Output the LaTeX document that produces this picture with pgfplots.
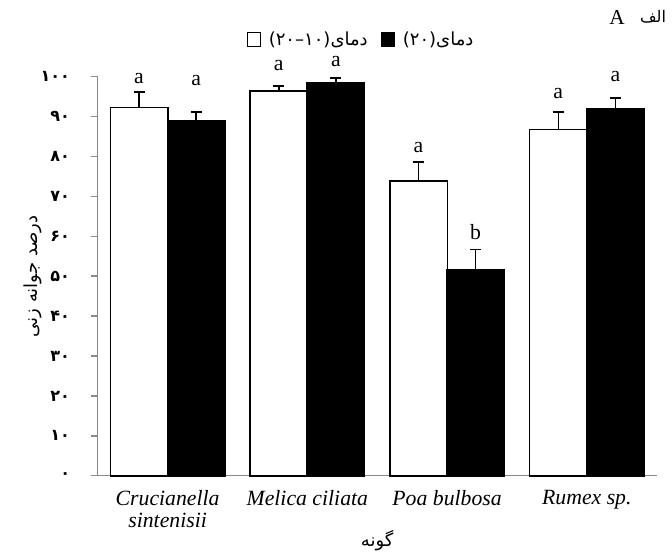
\documentclass[border=0pt]{standalone}
\usepackage{fontspec}
\setmainfont{Liberation Serif}
\newfontfamily\arabicfont[Script=Arabic]{DejaVu Sans}
\TeXXeTstate=1
\usepackage{pgfplots}
\pgfplotsset{compat=1.18}
\definecolor{axgray}{RGB}{137,137,137}
\begin{document}
\begin{tikzpicture}
\begin{axis}[
  scale only axis,
  width=419.25pt, height=299.25pt,
  xmin=-0.5, xmax=3.5, ymin=0, ymax=100,
  axis x line*=bottom, axis y line*=left,
  axis line style={-, axgray, line width=1.1pt},
  xtick={0,1,2,3},
  xticklabels={{Crucianella\\sintenisii},{Melica ciliata},{Poa bulbosa},{Rumex sp.}},
  xtick style={draw=none},
  xticklabel style={font=\fontsize{16.3}{16.5}\selectfont\itshape, align=center, anchor=north, yshift=-2pt},
  ytick={0,10,20,30,40,50,60,70,80,90,100},
  yticklabels={۰,۱۰,۲۰,۳۰,۴۰,۵۰,۶۰,۷۰,۸۰,۹۰,۱۰۰},
  yticklabel style={font=\arabicfont\bfseries\fontsize{12}{14}\selectfont, xshift=-12pt},
  ytick style={axgray, line width=1.1pt},
  tick align=outside,
  major tick length=5.25pt,
  ylabel={\arabicfont\fontsize{13.5}{15}\selectfont\beginR درصد جوانه زنی\endR},
  ylabel style={at={(axis description cs:-0.1157,0.5)}, anchor=center},
  xlabel={\arabicfont\fontsize{13.5}{15}\selectfont\beginR گونه\endR},
  xlabel style={at={(axis description cs:0.5,-0.162)}, anchor=center},
  legend style={at={(axis description cs:0.472,1.0936)}, anchor=center, draw=none, fill=none,
    legend columns=2, font=\arabicfont\fontsize{13.5}{15}\selectfont,
    /tikz/every odd column/.append style={column sep=4pt},
    /tikz/every even column/.append style={column sep=8pt}},
  legend image code/.code={\draw[#1, line width=0.6pt] (0pt,-4.9pt) rectangle (9.75pt,4.9pt);},
  clip=false,
]
\addplot[ybar, bar width=43.1pt, bar shift=0pt, fill=white, draw=black, line width=1.2pt,
  error bars/.cd, y dir=plus, y explicit,
  error bar style={line width=1.2pt, black},
  error mark options={rotate=90, line width=1.2pt, mark size=4.1pt, black}]
  coordinates {(-0.2042,92.3) +- (0,3.8) (0.7958,96.4) +- (0,1.3) (1.7958,73.9) +- (0,4.8) (2.7958,86.8) +- (0,4.4)};
\addlegendentry{\beginR دمای(۱۰–۲۰)\endR}
\addplot[ybar, bar width=43.1pt, bar shift=0pt, fill=black, draw=black, line width=1.2pt,
  error bars/.cd, y dir=plus, y explicit,
  error bar style={line width=1.2pt, black},
  error mark options={rotate=90, line width=1.2pt, mark size=4.1pt, black}]
  coordinates {(0.2042,88.9) +- (0,2.3) (1.2042,98.5) +- (0,1.2) (2.2042,51.6) +- (0,5.1) (3.2042,91.9) +- (0,2.8)};
\addlegendentry{\beginR دمای(۲۰)\endR}
\begin{scope}[every node/.style={font=\fontsize{16.3}{18}\selectfont, inner sep=0pt, anchor=base}]
\node at (axis cs:-0.2042,98.3) {a};
\node at (axis cs:0.2042,97.9) {a};
\node at (axis cs:0.7958,101.5) {a};
\node at (axis cs:1.2042,102.5) {a};
\node at (axis cs:1.7958,81.1) {a};
\node at (axis cs:2.2042,59.1) {b};
\node at (axis cs:2.7958,94.6) {a};
\node at (axis cs:3.2042,98.7) {a};
\end{scope}
\end{axis}
\node[font=\fontsize{16}{18}\selectfont, inner sep=0pt] at (389.5pt,344pt) {A};
\node[font=\arabicfont\fontsize{12}{14}\selectfont, inner sep=0pt] at (416.5pt,344pt) {\beginR الف\endR};
\path (-73.3pt,-58.7pt) rectangle (430.7pt,356.8pt);
\end{tikzpicture}
\end{document}
